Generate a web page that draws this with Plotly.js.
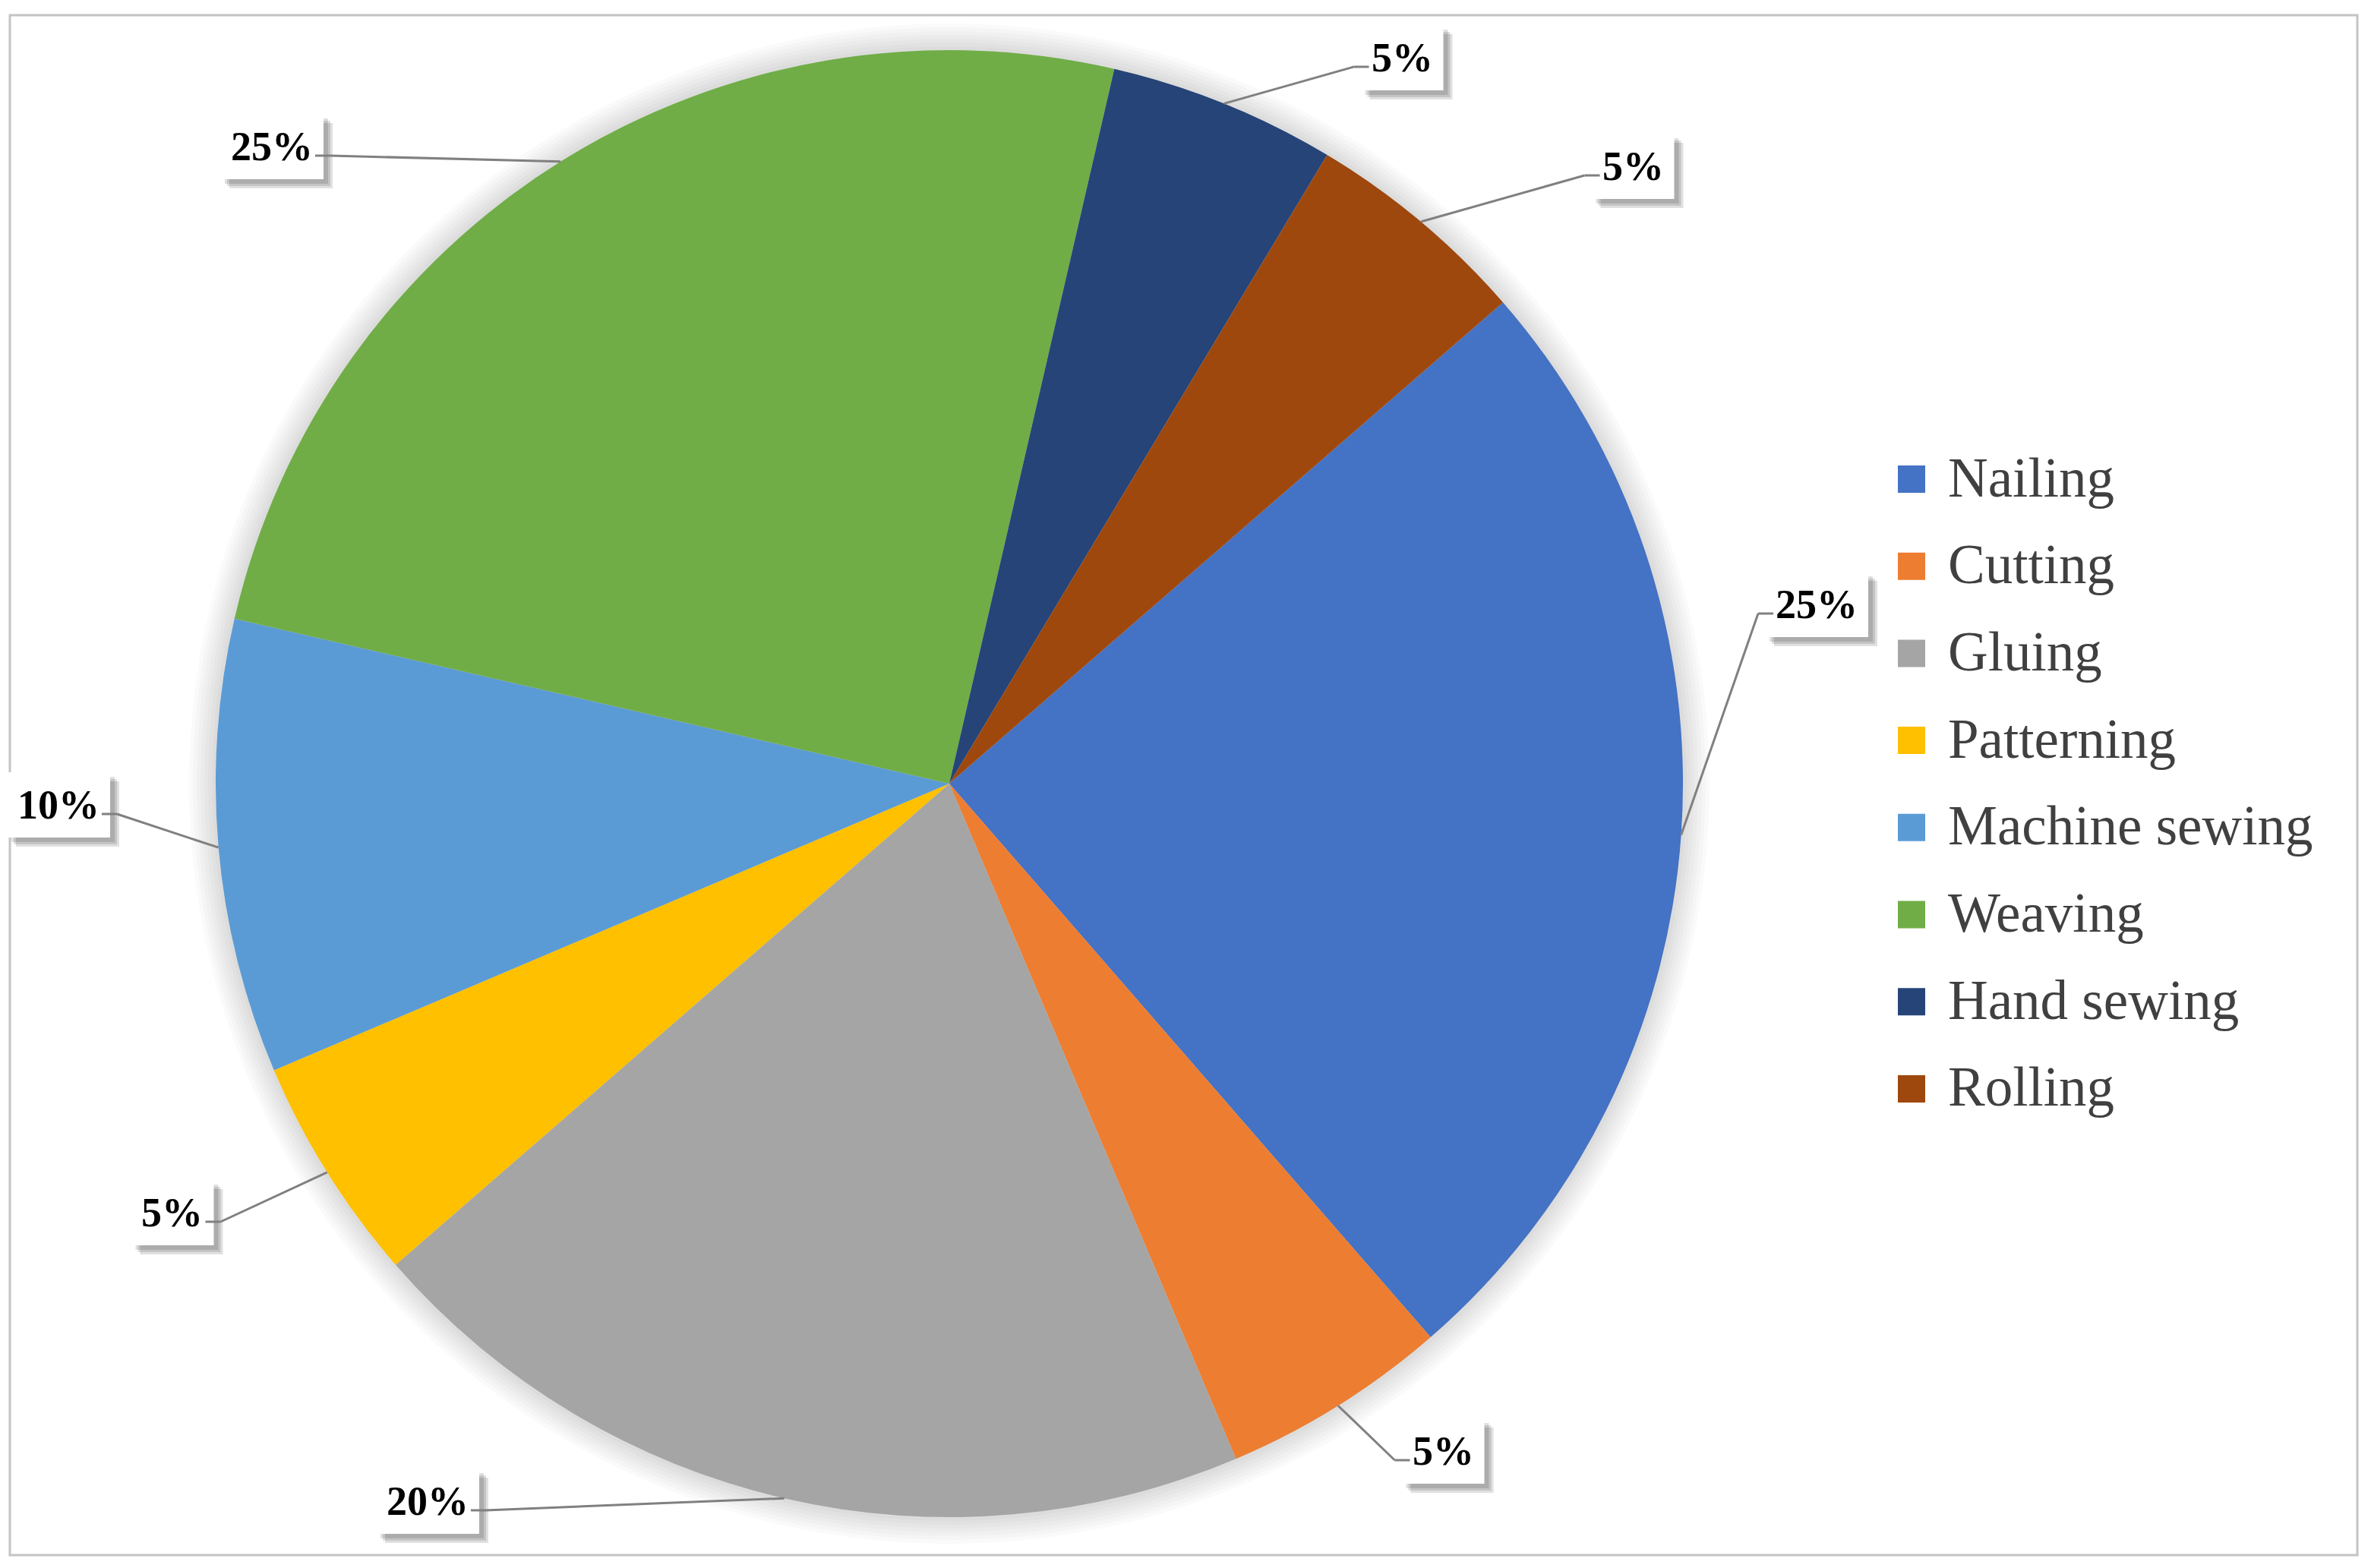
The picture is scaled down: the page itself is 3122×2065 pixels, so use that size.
<!DOCTYPE html>
<html><head><meta charset="utf-8">
<script src="https://cdn.plot.ly/plotly-3.0.1.min.js"></script>
<style>html,body{margin:0;padding:0;background:#fff}</style>
</head><body><div id="chart" style="width:3122px;height:2065px"></div>
<script>
// ---- data ----
const categories = ["Nailing","Cutting","Gluing","Patterning","Machine sewing","Weaving","Hand sewing","Rolling"];
const shares = [25,5,20,5,10,25,5,5];
const sliceColors = ["#4472C4","#ED7D31","#A5A5A5","#FFC000","#5B9BD5","#70AD47","#264478","#9E480E"];

// ---- layout config (pixels) ----
const W = 3122, H = 2065;
const CX = 1250, CY = 1032, R = 966;
const START_ANGLE = 49;
const labelCenters = [[2392,796],[1900,1911],[563,1977],[227,1597],[77,1060],[358,193],[1846,76],[2150,219]];
const legendX = 2499, legendY0 = 631, legendStep = 114.7, swatch = 36;

const px = x => x / W;
const py = y => 1 - y / H;
const total = shares.reduce((a,b)=>a+b,0);

const shapes = [];
const annotations = [];

// border
shapes.push({type:'rect', xref:'paper', yref:'paper', x0:px(13), x1:px(3104), y0:py(20), y1:py(2048),
  line:{color:'#c4c4c4', width:3}, fillcolor:'rgba(0,0,0,0)', layer:'below'});

// pie glow
for (let k = 7; k >= 1; k--) {
  const r = R + k*5;
  shapes.push({type:'circle', xref:'paper', yref:'paper', x0:px(CX-r), x1:px(CX+r), y0:py(CY+r), y1:py(CY-r),
    line:{width:0}, fillcolor:'rgba(0,0,0,0.018)', layer:'below'});
}

// labels
const boxes = [], shadows = [], lines = [];
let cum = 0;
shares.forEach((v, i) => {
  const mid = (START_ANGLE + 360 * (cum + v/2) / total) * Math.PI / 180;
  cum += v;
  const P = [CX + R*Math.sin(mid), CY - R*Math.cos(mid)];
  const txt = Math.round(v/total*100) + '%';
  const tw = (txt.length - 1) * 27 + 52;
  const [lx, ly] = labelCenters[i];
  const bw = tw + 30, bh = 86;
  for (let s = 3; s >= 1; s--) {
    const o = 3 + s*3;
    shadows.push({type:'rect', xref:'paper', yref:'paper', x0:px(lx-bw/2+o), x1:px(lx+bw/2+o), y0:py(ly+bh/2+o), y1:py(ly-bh/2+o),
      line:{width:0}, fillcolor:'rgba(0,0,0,0.12)', layer:'above'});
  }
  boxes.push({type:'rect', xref:'paper', yref:'paper', x0:px(lx-bw/2), x1:px(lx+bw/2), y0:py(ly+bh/2), y1:py(ly-bh/2),
    line:{width:0}, fillcolor:'#ffffff', layer:'above'});
  const right = lx > P[0];
  const A = [right ? lx - tw/2 - 4 : lx + tw/2 + 4, ly + 12];
  const E = [right ? A[0] - 20 : A[0] + 20, A[1]];
  lines.push({type:'line', xref:'paper', yref:'paper', x0:px(P[0]), y0:py(P[1]), x1:px(E[0]), y1:py(E[1]),
    line:{color:'#808080', width:3}, layer:'above'});
  lines.push({type:'line', xref:'paper', yref:'paper', x0:px(E[0]), y0:py(E[1]), x1:px(A[0]), y1:py(A[1]),
    line:{color:'#808080', width:3}, layer:'above'});
  annotations.push({xref:'paper', yref:'paper', x:px(lx), y:py(ly), text:txt, showarrow:false,
    xanchor:'center', yanchor:'middle',
    font:{family:'Liberation Serif', size:54, color:'#000000', weight:'bold'}});
});
shapes.push(...shadows, ...boxes, ...lines);

// legend (manual, for exact spacing)
categories.forEach((c, i) => {
  const y = legendY0 + i*legendStep;
  shapes.push({type:'rect', xref:'paper', yref:'paper', x0:px(legendX), x1:px(legendX+swatch),
    y0:py(y+swatch/2), y1:py(y-swatch/2), line:{width:0}, fillcolor:sliceColors[i], layer:'above'});
  annotations.push({xref:'paper', yref:'paper', x:px(legendX+swatch+28), y:py(y-2), text:c, showarrow:false,
    xanchor:'left', yanchor:'middle', font:{family:'Liberation Serif', size:73, color:'#404040'}});
});

const trace = {
  type:'pie', labels:categories, values:shares, sort:false, direction:'clockwise', rotation:START_ANGLE,
  marker:{colors:sliceColors, line:{width:0}}, textinfo:'none', hoverinfo:'label+percent',
  showlegend:false,
  domain:{x:[px(CX-R), px(CX+R)], y:[py(CY+R), py(CY-R)]}
};

Plotly.newPlot('chart', [trace], {
  width:W, height:H, margin:{l:0,r:0,t:0,b:0}, paper_bgcolor:'#ffffff', showlegend:false,
  shapes:shapes, annotations:annotations
}, {staticPlot:true});
</script></body></html>
